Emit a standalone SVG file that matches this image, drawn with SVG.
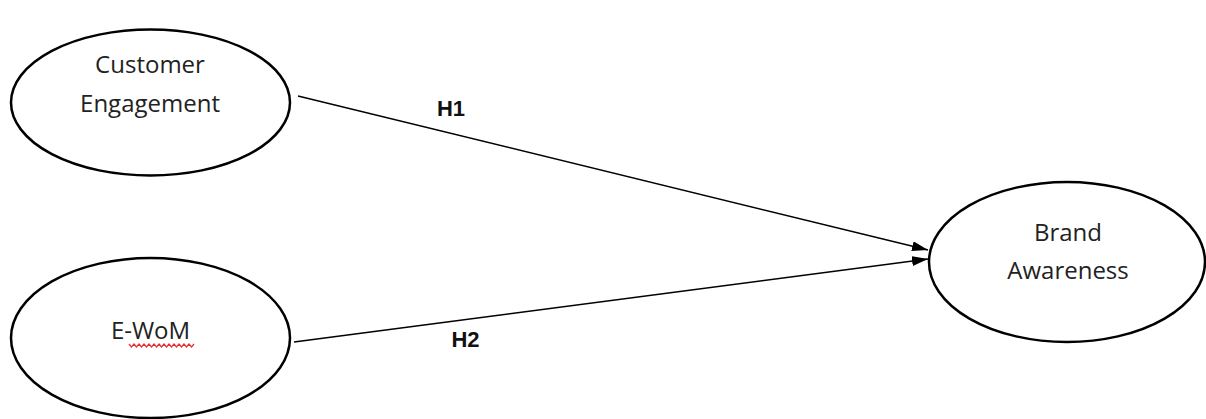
<svg xmlns="http://www.w3.org/2000/svg" width="1206" height="419" viewBox="0 0 1206 419">
<style>
.node ellipse{fill:#fff;stroke:#000;stroke-width:2.5}
.lbl{font-family:"Open Sans","Liberation Sans",sans-serif;font-size:24px;fill:#222;text-anchor:middle}
.h{font-family:"Liberation Sans",Arial,sans-serif;font-size:22px;font-weight:bold;fill:#111;text-anchor:middle}
.edge{stroke:#000;stroke-width:1.5;fill:none}
</style>
<defs>
<marker id="arr" viewBox="0 0 16 10" refX="16" refY="5" markerWidth="16" markerHeight="10" markerUnits="userSpaceOnUse" orient="auto">
<path d="M0,0 L16,5 L0,10 Z" fill="#000"/>
</marker>
</defs>
<rect width="1206" height="419" fill="#fff"/>
<g id="customer-engagement" class="node">
<ellipse cx="150.5" cy="102.5" rx="139.5" ry="73"/>
<text class="lbl" x="150" y="73">Customer</text>
<text class="lbl" x="150" y="112">Engagement</text>
</g>
<g id="e-wom" class="node">
<ellipse cx="150.5" cy="338" rx="139.5" ry="80"/>
<text class="lbl" x="150.5" y="339">E-WoM</text>
<path d="M129,344 l2.5,3 l2.5,-3 l2.5,3 l2.5,-3 l2.5,3 l2.5,-3 l2.5,3 l2.5,-3 l2.5,3 l2.5,-3 l2.5,3 l2.5,-3 l2.5,3 l2.5,-3 l2.5,3 l2.5,-3 l2.5,3 l2.5,-3 l2.5,3 l2.5,-3 l2.5,3 l2.5,-3 l2.5,3 l2.5,-3 l2.5,3 l2.5,-3" fill="none" stroke="#e03030" stroke-width="1.2"/>
</g>
<g id="brand-awareness" class="node">
<ellipse cx="1067" cy="262" rx="138" ry="80"/>
<text class="lbl" x="1068" y="241">Brand</text>
<text class="lbl" x="1068" y="279">Awareness</text>
</g>
<g id="connectors">
<line class="edge" x1="298" y1="96" x2="928" y2="250" marker-end="url(#arr)"/>
<line class="edge" x1="294" y1="342" x2="928" y2="259" marker-end="url(#arr)"/>
<text class="h" x="451" y="116">H1</text>
<text class="h" x="465.5" y="347">H2</text>
</g>
</svg>
